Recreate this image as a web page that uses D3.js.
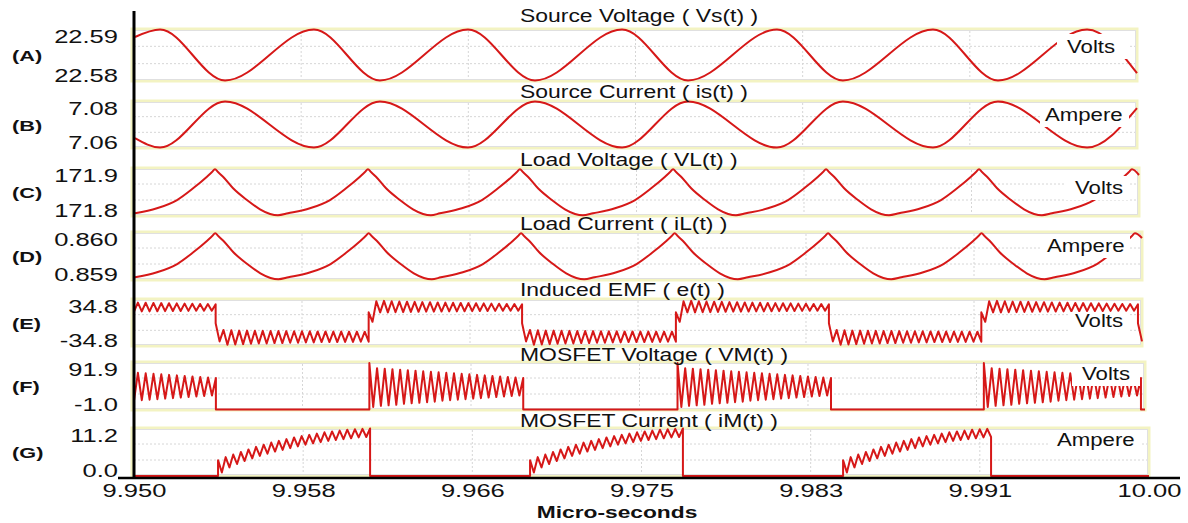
<!DOCTYPE html>
<html lang="en">
<head>
<meta charset="UTF-8" />
<title>converter waveforms</title>
<script src="https://cdn.jsdelivr.net/npm/d3@7"></script>
<style>
  body { margin: 0; background: #fff; }
  text { font-family: "Liberation Sans", Arial, sans-serif; fill: #111; }
</style>
</head>
<body>
<div id="wrapper"></div>
<script>
// ---- data ----
const tMin = 9.95, tMax = 10.0;
const xTickValues = [9.95, 9.958333, 9.966667, 9.975, 9.983333, 9.991667, 10.0];
const xTickLabels = ["9.950", "9.958", "9.966", "9.975", "9.983", "9.991", "10.00"];

const panelIds = ["(A)", "(B)", "(C)", "(D)", "(E)", "(F)", "(G)"];
const panelTitles = ["Source Voltage ( Vs(t) )", "Source Current ( is(t) )", "Load Voltage ( VL(t) )",
  "Load Current ( iL(t) )", "Induced EMF ( e(t) )", "MOSFET Voltage ( VM(t) )", "MOSFET Current ( iM(t) )"];
const panelUnits = ["Volts", "Ampere", "Volts", "Ampere", "Volts", "Volts", "Ampere"];
const yDomains = [[22.58, 22.59], [7.06, 7.08], [171.8, 171.9], [0.859, 0.860], [-34.8, 34.8], [-1.0, 91.9], [0.0, 11.2]];
const yTickLabels = [["22.58", "22.59"], ["7.06", "7.08"], ["171.8", "171.9"], ["0.859", "0.860"],
  ["-34.8", "34.8"], ["-1.0", "91.9"], ["0.0", "11.2"]];

// (A)/(B) turning points of source voltage and current
const sourceTimes = [9.95005, 9.95130, 9.95454, 9.95897, 9.96226, 9.96665, 9.96999, 9.97433,
  9.97762, 9.98205, 9.98534, 9.98983, 9.99307, 9.99751, 10.0];
const sourceVoltage = [22.58846, 22.5899, 22.5801, 22.5899, 22.5801, 22.5899, 22.5801, 22.5899,
  22.5801, 22.5899, 22.5801, 22.5899, 22.5801, 22.5899, 22.5815];
const sourceCurrent = [7.0642, 7.0602, 7.0798, 7.0602, 7.0798, 7.0602, 7.0798, 7.0602,
  7.0798, 7.0602, 7.0798, 7.0602, 7.0798, 7.0602, 7.0770];

// (C)/(D) load voltage and current
const loadTimes = [
  9.95005, 9.95114, 9.95214, 9.95294, 9.95363, 9.95388, 9.95403, 9.95418, 9.95443, 9.95493, 9.95562, 9.95627, 9.95677, 9.95716,
  9.95766, 9.95875, 9.95975, 9.96055, 9.96124, 9.96149, 9.96164, 9.96179, 9.96204, 9.96254, 9.96323, 9.96388, 9.96438, 9.96477,
  9.96522, 9.96631, 9.96731, 9.96811, 9.96880, 9.96905, 9.96920, 9.96935, 9.96960, 9.97010, 9.97079, 9.97144, 9.97194, 9.97233,
  9.97284, 9.97393, 9.97493, 9.97573, 9.97642, 9.97667, 9.97682, 9.97697, 9.97722, 9.97772, 9.97841, 9.97906, 9.97956, 9.97995,
  9.98045, 9.98154, 9.98254, 9.98334, 9.98403, 9.98428, 9.98443, 9.98458, 9.98483, 9.98533, 9.98602, 9.98667, 9.98717, 9.98756,
  9.98806, 9.98915, 9.99015, 9.99095, 9.99164, 9.99189, 9.99204, 9.99219, 9.99244, 9.99294, 9.99363, 9.99428, 9.99478, 9.99517,
  9.99567, 9.99676, 9.99776, 9.99856, 9.99925, 9.99950, 9.99965, 10.0];
const loadVoltage = [
  171.8056, 171.8160, 171.8333, 171.8577, 171.8819, 171.8915, 171.8973, 171.8915, 171.8819, 171.8577, 171.8333, 171.8140, 171.8042, 171.8015,
  171.8056, 171.8160, 171.8333, 171.8577, 171.8819, 171.8915, 171.8973, 171.8915, 171.8819, 171.8577, 171.8333, 171.8140, 171.8042, 171.8015,
  171.8056, 171.8160, 171.8333, 171.8577, 171.8819, 171.8915, 171.8973, 171.8915, 171.8819, 171.8577, 171.8333, 171.8140, 171.8042, 171.8015,
  171.8056, 171.8160, 171.8333, 171.8577, 171.8819, 171.8915, 171.8973, 171.8915, 171.8819, 171.8577, 171.8333, 171.8140, 171.8042, 171.8015,
  171.8056, 171.8160, 171.8333, 171.8577, 171.8819, 171.8915, 171.8973, 171.8915, 171.8819, 171.8577, 171.8333, 171.8140, 171.8042, 171.8015,
  171.8056, 171.8160, 171.8333, 171.8577, 171.8819, 171.8915, 171.8973, 171.8915, 171.8819, 171.8577, 171.8333, 171.8140, 171.8042, 171.8015,
  171.8056, 171.8160, 171.8333, 171.8577, 171.8819, 171.8915, 171.8973, 171.8854];
const loadCurrent = [
  0.859056, 0.859160, 0.859333, 0.859577, 0.859819, 0.859915, 0.859973, 0.859915, 0.859819, 0.859577, 0.859333, 0.859140, 0.859042, 0.859015,
  0.859056, 0.859160, 0.859333, 0.859577, 0.859819, 0.859915, 0.859973, 0.859915, 0.859819, 0.859577, 0.859333, 0.859140, 0.859042, 0.859015,
  0.859056, 0.859160, 0.859333, 0.859577, 0.859819, 0.859915, 0.859973, 0.859915, 0.859819, 0.859577, 0.859333, 0.859140, 0.859042, 0.859015,
  0.859056, 0.859160, 0.859333, 0.859577, 0.859819, 0.859915, 0.859973, 0.859915, 0.859819, 0.859577, 0.859333, 0.859140, 0.859042, 0.859015,
  0.859056, 0.859160, 0.859333, 0.859577, 0.859819, 0.859915, 0.859973, 0.859915, 0.859819, 0.859577, 0.859333, 0.859140, 0.859042, 0.859015,
  0.859056, 0.859160, 0.859333, 0.859577, 0.859819, 0.859915, 0.859973, 0.859915, 0.859819, 0.859577, 0.859333, 0.859140, 0.859042, 0.859015,
  0.859056, 0.859160, 0.859333, 0.859577, 0.859819, 0.859915, 0.859973, 0.859875];

// (E)/(F) switching instants (first entry = start, last = end of window)
const switchTimes = [9.95, 9.95405, 9.96164, 9.96925, 9.97688, 9.98447, 9.99203, 9.99980, 10.0];
// ripple extremes over one switch interval
const emfOn = [15, 1, 31.5, 15, 32, 15, 31.5, 15.2, 31, 15.4, 30.8, 15.6, 30.5, 15.8, 30.2, 16, 30, 16, 29.7, 16.2,
  29.5, 16.4, 29.2, 16.5, 29, 16.6, 28.8, 16.8, 28.5, 17, 28.3, 17, 28, 17.2, 27.8, 17.4, 27.5, 17.5, 27.3, 17.5, 27];
const emfOff = [-1, -28, -11, -33, -11.5, -32.5, -12, -32, -12, -31.5, -12.2, -31, -12.4, -31, -12.5, -30.5, -12.6, -30.5,
  -12.8, -30, -13, -30, -13, -29.5, -13, -29.5, -13.2, -29, -13.2, -29, -13.4, -29, -13.4, -28.8, -13.5, -28.8, -13.5, -28.5, -13.6, -28.5];
const mosfetVOn = [90, 5, 80, 7, 79, 8, 78, 9, 77, 11, 76, 12, 75, 13, 74, 14, 73, 15, 72, 17, 71,
  18, 70, 19, 69, 20, 68, 21, 67, 22, 66, 23, 65, 24, 64, 25, 63, 26, 62, 27, 61];
const mosfetVOff = [0, 0];

// (G) MOSFET conduction instants
const mosfetITimes = [9.95, 9.95414, 9.96163, 9.96951, 9.97704, 9.98493, 9.99222, 10.0];
const mosfetIOn = [3.7, 0.8, 4.4, 2.0, 5.0, 2.8, 5.6, 3.5, 6.2, 4.1, 6.8, 4.7, 7.3, 5.2, 7.8, 5.7, 8.2, 6.1, 8.6, 6.5, 9.0,
  6.9, 9.3, 7.3, 9.6, 7.6, 9.9, 7.9, 10.2, 8.2, 10.4, 8.4, 10.6, 8.6, 10.8, 8.8, 10.9, 9.0, 11.0, 9.1, 11.1];
const mosfetIOff = [0, 0];

// ---- layout ----
const width = 1188, height = 523;
const axisX = 134, axisBottom = 478;
const layout = [
  { top: 29, bottom: 81, right: 1137, titleY: 22, unitX: 1067, unitY: 53, box: [1057, 34, 71, 25] },
  { top: 101, bottom: 148, right: 1137, titleY: 98, unitX: 1045, unitY: 121, box: [1040, 104, 89, 23] },
  { top: 168, bottom: 216, right: 1139, titleY: 166, unitX: 1075, unitY: 194, box: [1065, 176, 63, 24] },
  { top: 232, bottom: 280, right: 1142, titleY: 230, unitX: 1047, unitY: 252, box: [1040, 236, 90, 22] },
  { top: 299, bottom: 346, right: 1142, titleY: 296, unitX: 1075, unitY: 327, box: [1068, 312, 62, 21] },
  { top: 362, bottom: 410, right: 1145, titleY: 361, unitX: 1082, unitY: 380, box: [1072, 364, 68, 22] },
  { top: 428, bottom: 476, right: 1149, titleY: 427, unitX: 1057, unitY: 446, box: [1050, 431, 92, 20] },
];

function zip(ts, vs) { return ts.map((t, i) => [t, vs[i]]); }

function switchedSeries(edges, profiles) {
  const full = edges[2] - edges[1];
  const pts = [];
  profiles.forEach((vals, i) => {
    const t0 = edges[i], t1 = edges[i + 1];
    if (vals.length > 2) {
      const n = Math.max(2, Math.round(vals.length * (t1 - t0) / full));
      if (n < vals.length) vals = i === 0 ? vals.slice(-n) : vals.slice(0, n);
    }
    vals.forEach((v, k) => pts.push([t0 + (t1 - t0) * k / (vals.length - 1), v]));
  });
  return pts;
}

const series = [
  { pts: zip(sourceTimes, sourceVoltage), curve: d3.curveMonotoneX },
  { pts: zip(sourceTimes, sourceCurrent), curve: d3.curveMonotoneX },
  { pts: zip(loadTimes, loadVoltage), curve: d3.curveMonotoneX },
  { pts: zip(loadTimes, loadCurrent), curve: d3.curveMonotoneX },
  { pts: switchedSeries(switchTimes, [emfOn, emfOff, emfOn, emfOff, emfOn, emfOff, emfOn, emfOff]), curve: d3.curveLinear },
  { pts: switchedSeries(switchTimes, [mosfetVOn, mosfetVOff, mosfetVOn, mosfetVOff, mosfetVOn, mosfetVOff, mosfetVOn, mosfetVOff]), curve: d3.curveLinear },
  { pts: switchedSeries(mosfetITimes, [mosfetIOff, mosfetIOn, mosfetIOff, mosfetIOn, mosfetIOff, mosfetIOn, mosfetIOff]), curve: d3.curveLinear },
];

const svg = d3.select("#wrapper").append("svg")
  .attr("width", width).attr("height", height);

function label(g, str, x, y, size, sx, anchor, bold) {
  return g.append("text")
    .attr("transform", `translate(${x},${y}) scale(${sx},1)`)
    .attr("text-anchor", anchor || "start")
    .attr("font-size", size)
    .attr("font-weight", bold ? "bold" : null)
    .text(str);
}

let xLast;
layout.forEach((L, i) => {
  const x = d3.scaleLinear().domain([tMin, tMax]).range([axisX, L.right]);
  const y = d3.scaleLinear().domain(yDomains[i]).range([L.bottom, L.top]);
  xLast = x;
  const g = svg.append("g");

  g.append("rect").attr("x", 132).attr("y", L.top).attr("width", L.right - 132).attr("height", L.bottom - L.top)
    .attr("fill", "#fff").attr("stroke", "#f3f3c2").attr("stroke-width", 3);
  g.append("rect").attr("x", 133.5).attr("y", L.top + 1.5).attr("width", L.right - 135).attr("height", L.bottom - L.top - 3)
    .attr("fill", "none").attr("stroke", "#e0e0e0").attr("stroke-width", 1);

  const h = L.bottom - L.top;
  g.selectAll(".hg").data([1 / 3, 2 / 3]).join("line")
    .attr("x1", axisX).attr("x2", L.right - 2)
    .attr("y1", d => L.top + h * d).attr("y2", d => L.top + h * d)
    .attr("stroke", "#d6d6d6").attr("stroke-dasharray", "2,2");
  g.selectAll(".vg").data(xTickValues.slice(1, -1)).join("line")
    .attr("x1", d => x(d)).attr("x2", d => x(d))
    .attr("y1", L.top + 2).attr("y2", L.bottom - 2)
    .attr("stroke", "#d6d6d6").attr("stroke-dasharray", "2,2");

  const line = d3.line().x(d => x(d[0])).y(d => y(d[1])).curve(series[i].curve);
  g.append("path").attr("d", line(series[i].pts))
    .attr("fill", "none").attr("stroke", "#d61818").attr("stroke-width", 2)
    .attr("stroke-linejoin", "round");

  g.append("rect").attr("x", L.box[0]).attr("y", L.box[1]).attr("width", L.box[2]).attr("height", L.box[3])
    .attr("fill", "#fff");
  label(g, panelUnits[i], L.unitX, L.unitY, 18.5, 1.2);
  label(g, panelTitles[i], 520, L.titleY, 17.5, 1.31);
  label(svg, panelIds[i], 12, (L.top + L.bottom) / 2 + 6, 15, 1.45, "start", true);

  const ya = svg.append("g").attr("transform", "translate(118,0)")
    .call(d3.axisLeft(y).tickValues(yDomains[i]).tickFormat((d, k) => yTickLabels[i][k]).tickSize(0).tickPadding(0));
  ya.select(".domain").remove();
  ya.attr("font-family", null).attr("font-size", null);
  ya.selectAll("text").attr("font-size", 18.5).attr("fill", "#111")
    .attr("dy", (d, k) => (k === 0 ? "0" : "0.71em"))
    .attr("transform", "scale(1.38,1)");
});

const xa = svg.append("g").attr("transform", `translate(0,${axisBottom})`)
  .call(d3.axisBottom(xLast).tickValues(xTickValues).tickFormat((d, k) => xTickLabels[k]).tickSize(0).tickPadding(6));
xa.select(".domain").remove();
xa.attr("font-family", null).attr("font-size", null);
xa.selectAll("text").attr("font-size", 18.5).attr("fill", "#111").attr("transform", "scale(1.38,1)");

svg.append("line").attr("x1", 118).attr("x2", 1180).attr("y1", axisBottom).attr("y2", axisBottom)
  .attr("stroke", "#000").attr("stroke-width", 2.5);
svg.append("line").attr("x1", axisX).attr("x2", axisX).attr("y1", 11).attr("y2", axisBottom)
  .attr("stroke", "#000").attr("stroke-width", 3);

label(svg, "Micro-seconds", 617, 518, 17, 1.34, "middle", true);
</script>
</body>
</html>
